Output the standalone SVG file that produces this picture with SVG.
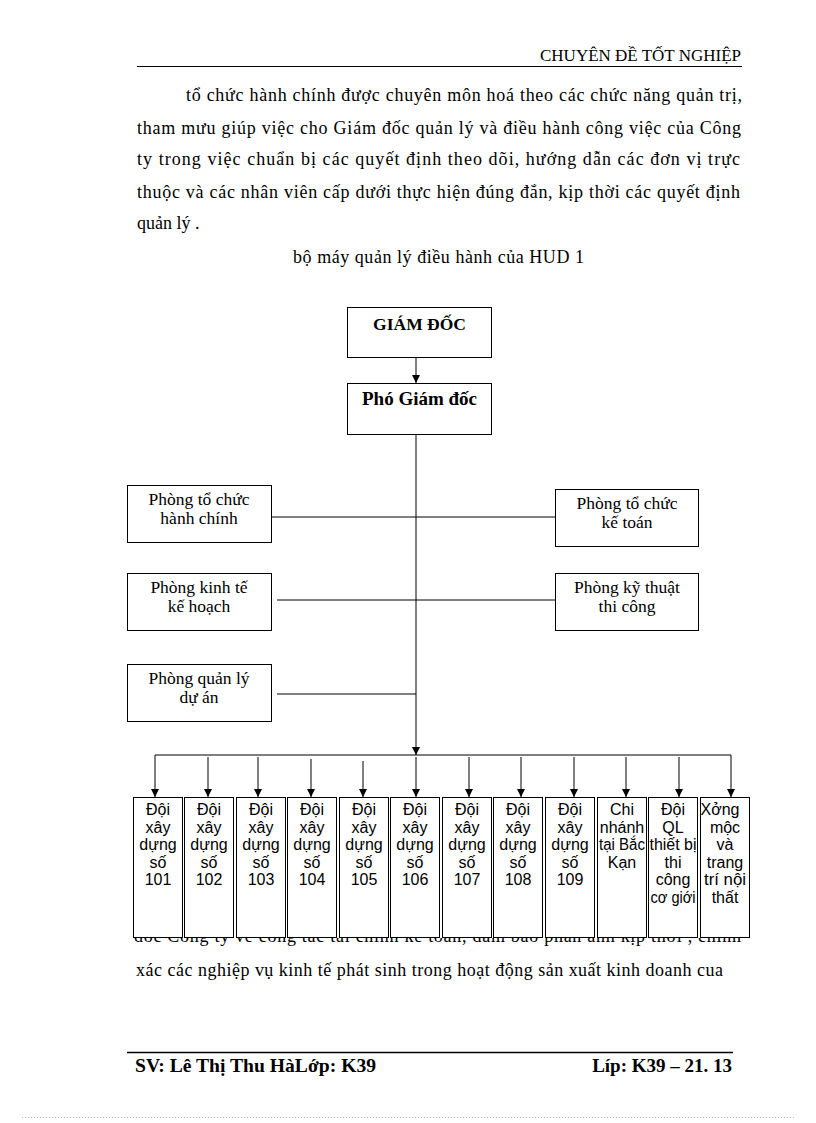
<svg xmlns="http://www.w3.org/2000/svg" width="816" height="1123" viewBox="0 0 816 1123">
<defs>
<style>
.pt{font-family:"Liberation Serif","Times New Roman",serif;font-size:18px;fill:#000}
.hd{font-family:"Liberation Serif","Times New Roman",serif;font-size:17px;fill:#000}
.ft{font-family:"Liberation Serif","Times New Roman",serif;font-size:19px;font-weight:bold;fill:#000}
.bx{fill:#fff;stroke:#000;stroke-width:1}
.bt{font-family:"Liberation Serif","Times New Roman",serif;font-size:17.5px;fill:#000;text-anchor:middle}
.bb{font-family:"Liberation Serif","Times New Roman",serif;font-weight:bold;fill:#000;text-anchor:middle}
.st{font-family:"Liberation Sans",Arial,sans-serif;font-size:16px;fill:#000;text-anchor:middle}
.ln{fill:none;stroke:#000;stroke-width:1}
.ar{fill:none;stroke:#000;stroke-width:1;marker-end:url(#ah)}
</style>
<marker id="ah" viewBox="0 0 8 8" refX="8" refY="4" markerWidth="8" markerHeight="8" markerUnits="userSpaceOnUse" orient="auto">
<path d="M0,0 L8,4 L0,8 z" fill="#000"/>
</marker>
<clipPath id="cl"><rect x="0" y="938" width="816" height="14"/></clipPath>
</defs>
<rect width="816" height="1123" fill="#fff"/>

<g id="page-text">
<text class="hd" x="741" y="61" text-anchor="end">CHUYÊN ĐỀ TỐT NGHIỆP</text>
<line x1="137" y1="66.5" x2="742" y2="66.5" stroke="#000" stroke-width="1"/>
<text class="pt" x="186" y="101" textLength="556" lengthAdjust="spacing">tổ chức hành chính được chuyên môn hoá theo các chức năng quản trị,</text>
<text class="pt" x="137" y="134" textLength="604" lengthAdjust="spacing">tham mưu giúp việc cho Giám đốc quản lý và điều hành công việc của Công</text>
<text class="pt" x="137" y="165" textLength="603" lengthAdjust="spacing">ty trong việc chuẩn bị các quyết định theo dõi, hướng dẫn các đơn vị trực</text>
<text class="pt" x="137" y="198" textLength="603" lengthAdjust="spacing">thuộc và các nhân viên cấp dưới thực hiện đúng đắn, kịp thời các quyết định</text>
<text class="pt" x="137" y="229">quản lý .</text>
<text class="pt" x="293" y="263" textLength="291" lengthAdjust="spacing">bộ máy quản lý điều hành của HUD 1</text>
<text class="pt" x="134" y="942" textLength="607" lengthAdjust="spacing" clip-path="url(#cl)">đốc Công ty về công tác tài chính kế toán, đảm bảo phản ánh kịp thời , chính</text>
<text class="pt" x="136" y="976" textLength="587" lengthAdjust="spacing">xác các nghiệp vụ kinh tế phát sinh trong hoạt động sản xuất kinh doanh cua</text>
<line x1="127" y1="1052.5" x2="733" y2="1052.5" stroke="#000" stroke-width="1.5"/>
<text class="ft" x="135" y="1072" textLength="241" lengthAdjust="spacingAndGlyphs">SV: Lê Thị Thu HàLớp: K39</text>
<text class="ft" x="732" y="1072" text-anchor="end">Líp: K39 – 21. 13</text>
<line x1="22" y1="1117.5" x2="795" y2="1117.5" stroke="#bbb" stroke-width="1" stroke-dasharray="1,2"/>
</g>

<g id="connectors">
<line class="ar" x1="416" y1="358" x2="416" y2="383"/>
<line class="ar" x1="416" y1="435" x2="416" y2="755"/>
<line class="ln" x1="271" y1="517" x2="555" y2="517"/>
<line class="ln" x1="277" y1="600" x2="560" y2="600"/>
<line class="ln" x1="277" y1="694" x2="416" y2="694"/>
<polyline class="ar" points="416,755 155,755 155,797"/>
<polyline class="ar" points="416,755 731,755 731,797"/>
<line class="ar" x1="208" y1="757" x2="208" y2="797"/>
<line class="ar" x1="258" y1="757" x2="258" y2="797"/>
<line class="ar" x1="311" y1="759" x2="311" y2="797"/>
<line class="ar" x1="363" y1="761" x2="363" y2="797"/>
<line class="ar" x1="416" y1="757" x2="416" y2="797"/>
<line class="ar" x1="469" y1="757" x2="469" y2="797"/>
<line class="ar" x1="521" y1="757" x2="521" y2="797"/>
<line class="ar" x1="574" y1="757" x2="574" y2="797"/>
<line class="ar" x1="626" y1="757" x2="626" y2="797"/>
<line class="ar" x1="679" y1="757" x2="679" y2="797"/>
</g>

<g id="giam-doc">
<rect class="bx" x="347.5" y="307.5" width="144" height="50"/>
<text class="bb" x="419.5" y="330" font-size="17.5">GIÁM ĐỐC</text>
</g>
<g id="pho-giam-doc">
<rect class="bx" x="347.5" y="383.5" width="144" height="51"/>
<text class="bb" x="419.5" y="405" font-size="19">Phó Giám đốc</text>
</g>

<g id="phong-to-chuc-hanh-chinh">
<rect class="bx" x="127.5" y="485.5" width="144" height="57"/>
<text class="bt" x="199"><tspan x="199" y="505">Phòng tổ chức</tspan><tspan x="199" y="524">hành chính</tspan></text>
</g>
<g id="phong-to-chuc-ke-toan">
<rect class="bx" x="555.5" y="489.5" width="143" height="57"/>
<text class="bt" x="627"><tspan x="627" y="509">Phòng tổ chức</tspan><tspan x="627" y="528">kế toán</tspan></text>
</g>
<g id="phong-kinh-te-ke-hoach">
<rect class="bx" x="127.5" y="573.5" width="144" height="57"/>
<text class="bt" x="199"><tspan x="199" y="593">Phòng kinh tế</tspan><tspan x="199" y="612">kế hoạch</tspan></text>
</g>
<g id="phong-ky-thuat-thi-cong">
<rect class="bx" x="555.5" y="573.5" width="143" height="57"/>
<text class="bt" x="627"><tspan x="627" y="593">Phòng kỹ thuật</tspan><tspan x="627" y="612">thi công</tspan></text>
</g>
<g id="phong-quan-ly-du-an">
<rect class="bx" x="127.5" y="664.5" width="144" height="57"/>
<text class="bt" x="199"><tspan x="199" y="684">Phòng quản lý</tspan><tspan x="199" y="703">dự án</tspan></text>
</g>

<g id="doi-101">
<rect class="bx" x="133.5" y="797.5" width="49" height="140"/>
<text class="st"><tspan x="158" y="815">Đội</tspan><tspan x="158" y="832.5">xây</tspan><tspan x="158" y="850">dựng</tspan><tspan x="158" y="867.5">số</tspan><tspan x="158" y="885">101</tspan></text>
</g>
<g id="doi-102">
<rect class="bx" x="184.5" y="797.5" width="49" height="140"/>
<text class="st"><tspan x="209" y="815">Đội</tspan><tspan x="209" y="832.5">xây</tspan><tspan x="209" y="850">dựng</tspan><tspan x="209" y="867.5">số</tspan><tspan x="209" y="885">102</tspan></text>
</g>
<g id="doi-103">
<rect class="bx" x="236.5" y="797.5" width="49" height="140"/>
<text class="st"><tspan x="261" y="815">Đội</tspan><tspan x="261" y="832.5">xây</tspan><tspan x="261" y="850">dựng</tspan><tspan x="261" y="867.5">số</tspan><tspan x="261" y="885">103</tspan></text>
</g>
<g id="doi-104">
<rect class="bx" x="287.5" y="797.5" width="49" height="140"/>
<text class="st"><tspan x="312" y="815">Đội</tspan><tspan x="312" y="832.5">xây</tspan><tspan x="312" y="850">dựng</tspan><tspan x="312" y="867.5">số</tspan><tspan x="312" y="885">104</tspan></text>
</g>
<g id="doi-105">
<rect class="bx" x="339.5" y="797.5" width="49" height="140"/>
<text class="st"><tspan x="364" y="815">Đội</tspan><tspan x="364" y="832.5">xây</tspan><tspan x="364" y="850">dựng</tspan><tspan x="364" y="867.5">số</tspan><tspan x="364" y="885">105</tspan></text>
</g>
<g id="doi-106">
<rect class="bx" x="390.5" y="797.5" width="49" height="140"/>
<text class="st"><tspan x="415" y="815">Đội</tspan><tspan x="415" y="832.5">xây</tspan><tspan x="415" y="850">dựng</tspan><tspan x="415" y="867.5">số</tspan><tspan x="415" y="885">106</tspan></text>
</g>
<g id="doi-107">
<rect class="bx" x="442.5" y="797.5" width="49" height="140"/>
<text class="st"><tspan x="467" y="815">Đội</tspan><tspan x="467" y="832.5">xây</tspan><tspan x="467" y="850">dựng</tspan><tspan x="467" y="867.5">số</tspan><tspan x="467" y="885">107</tspan></text>
</g>
<g id="doi-108">
<rect class="bx" x="493.5" y="797.5" width="49" height="140"/>
<text class="st"><tspan x="518" y="815">Đội</tspan><tspan x="518" y="832.5">xây</tspan><tspan x="518" y="850">dựng</tspan><tspan x="518" y="867.5">số</tspan><tspan x="518" y="885">108</tspan></text>
</g>
<g id="doi-109">
<rect class="bx" x="545.5" y="797.5" width="49" height="140"/>
<text class="st"><tspan x="570" y="815">Đội</tspan><tspan x="570" y="832.5">xây</tspan><tspan x="570" y="850">dựng</tspan><tspan x="570" y="867.5">số</tspan><tspan x="570" y="885">109</tspan></text>
</g>
<g id="chi-nhanh-bac-kan">
<rect class="bx" x="597.5" y="797.5" width="49" height="140"/>
<text class="st"><tspan x="622" y="815">Chi</tspan><tspan x="622" y="832.5">nhánh</tspan><tspan x="622" y="850" textLength="46" lengthAdjust="spacingAndGlyphs">tại Bắc</tspan><tspan x="622" y="867.5">Kạn</tspan></text>
</g>
<g id="doi-ql-thiet-bi">
<rect class="bx" x="648.5" y="797.5" width="49" height="140"/>
<text class="st"><tspan x="673" y="815">Đội</tspan><tspan x="673" y="832.5">QL</tspan><tspan x="673" y="850" textLength="47" lengthAdjust="spacingAndGlyphs">thiết bị</tspan><tspan x="673" y="867.5">thi</tspan><tspan x="673" y="885">công</tspan><tspan x="673" y="902.5" textLength="45" lengthAdjust="spacingAndGlyphs">cơ giới</tspan></text>
</g>
<g id="xuong-moc">
<rect class="bx" x="700.5" y="797.5" width="49" height="140"/>
<text class="st"><tspan x="720" y="815">Xởng</tspan><tspan x="725" y="832.5">mộc</tspan><tspan x="725" y="850">và</tspan><tspan x="725" y="867.5">trang</tspan><tspan x="725" y="885" textLength="42" lengthAdjust="spacingAndGlyphs">trí nội</tspan><tspan x="725" y="902.5">thất</tspan></text>
</g>
</svg>
